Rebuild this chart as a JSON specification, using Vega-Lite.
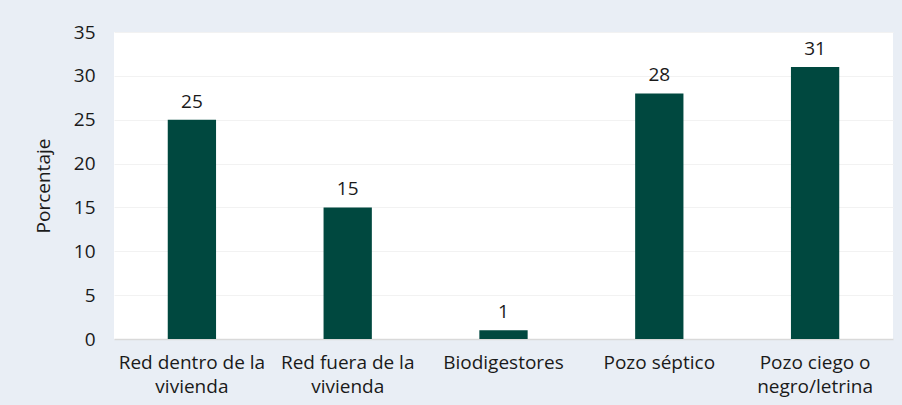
{
  "$schema": "https://vega.github.io/schema/vega-lite/v6.json",
  "autosize": {"type": "none"},
  "width": 779,
  "height": 307,
  "padding": {"left": 114, "top": 32, "right": 9, "bottom": 66},
  "background": "#E9EEF5",
  "config": {
    "font": "Open Sans",
    "view": {"fill": "#FFFFFF", "stroke": null}
  },
  "data": {
    "values": [
      {"categoria": "Red dentro de la|vivienda", "valor": 25},
      {"categoria": "Red fuera de la|vivienda", "valor": 15},
      {"categoria": "Biodigestores", "valor": 1},
      {"categoria": "Pozo séptico", "valor": 28},
      {"categoria": "Pozo ciego o|negro/letrina", "valor": 31}
    ]
  },
  "encoding": {
    "x": {
      "field": "categoria",
      "type": "nominal",
      "sort": null,
      "scale": {"paddingInner": 0.69, "paddingOuter": 0.345},
      "axis": {
        "title": null,
        "labelAngle": 0,
        "labelExpr": "split(datum.label, '|')",
        "labelFont": "Open Sans",
        "labelFontSize": 19,
        "labelColor": "#1A1A1A",
        "labelPadding": 14,
        "labelLineHeight": 24,
        "ticks": false,
        "domainColor": "#D9D9D9",
        "domainWidth": 1.5
      }
    },
    "y": {
      "field": "valor",
      "type": "quantitative",
      "scale": {"domain": [0, 35]},
      "axis": {
        "title": "Porcentaje",
        "titleFont": "Open Sans",
        "titleFontSize": 19,
        "titleFontWeight": "normal",
        "titleColor": "#1A1A1A",
        "titlePadding": 20,
        "values": [0, 5, 10, 15, 20, 25, 30, 35],
        "labelFont": "Open Sans",
        "labelFontSize": 19,
        "labelColor": "#1A1A1A",
        "labelPadding": 19,
        "ticks": false,
        "domain": false,
        "gridColor": "#F2F2F2",
        "gridWidth": 1
      }
    }
  },
  "layer": [
    {"mark": {"type": "bar", "color": "#00483F"}},
    {
      "mark": {"type": "text", "dy": -18, "fontSize": 19, "font": "Open Sans", "color": "#1A1A1A"},
      "encoding": {"text": {"field": "valor", "type": "quantitative"}}
    }
  ]
}
